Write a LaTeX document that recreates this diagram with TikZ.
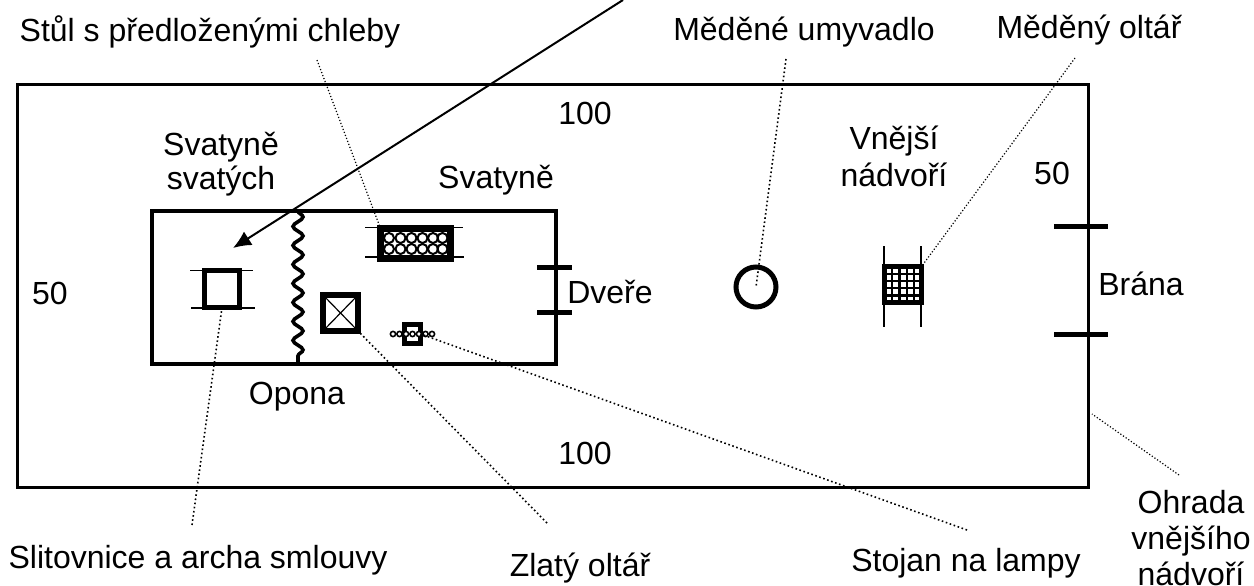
\documentclass[tikz,border=0pt]{standalone}
\usepackage{fontspec}
\setmainfont{Liberation Sans}
\usetikzlibrary{decorations.pathmorphing,arrows.meta}
\tikzset{
	popis/.style={align=center,inner sep=0pt,font=\fontsize{32}{34.5}\selectfont},
	predmet/.style={draw,line width=5pt,inner sep=0pt,outer sep=0pt,anchor=north west},
	vodici/.style={line width=1.6pt,dash pattern=on 1.6pt off 2.6pt},
	vodicitenka/.style={line width=1.2pt,dash pattern=on 1.2pt off 2pt},
	tenka/.style={line width=1.6pt}
}
\begin{document}
\begin{tikzpicture}[x=1pt,y=-1pt]
			\useasboundingbox (0,0) rectangle (1254,586);
			
			\node[draw,line width=3pt,inner sep=0pt,outer sep=0pt,minimum width=1071pt,minimum height=402pt,anchor=north west] (ohrada) at (17,85) {};
			\node[draw,line width=4pt,inner sep=0pt,outer sep=0pt,minimum width=404pt,minimum height=153pt,anchor=north west] (stan) at (152,211) {};
			
			% opona
			\draw[line width=3.6pt,decorate,decoration={snake,amplitude=5pt,segment length=19pt}] (298,211) -- (298,364);
			
			% slitovnice
			\draw[tenka] (190,270.5) -- (253,270.5);
			\draw[tenka] (191,308) -- (255,308);
			\node[predmet,minimum width=35pt,minimum height=37pt] (archa) at (204.5,270.5) {};
			
			% stul
			\draw[tenka] (365,227.5) -- (463,227.5);
			\draw[tenka] (365,257) -- (464,257);
			\node[predmet,fill=white,line width=7pt,minimum width=70pt,minimum height=30pt] (stul) at (380.5,228.5) {};
			\foreach \x in {389,400.5,411.5,422.5,433,442.5}{
				\draw[line width=2pt] (\x,238) circle (5pt);
				\draw[line width=2pt] (\x,249) circle (5pt);
			}
			
			% zlaty oltar
			\node[predmet,line width=6pt,minimum width=35pt,minimum height=36pt] (zlaty) at (323,295) {};
			\draw[line width=1.2pt] (zlaty.north west) -- (zlaty.south east);
			\draw[line width=1.2pt] (zlaty.north east) -- (zlaty.south west);
			
			% stojan
			\node[predmet,minimum width=16pt,minimum height=19pt] (stojan) at (404.5,324.5) {};
			\foreach \x in {393,399.5,406,412.5,419,425.5,432}{
				\draw[line width=1.6pt,fill=white] (\x,334) circle (2.6pt);
			}
			
			% dvere a brana
			\draw[line width=5pt] (537,267) -- (572,267);
			\draw[line width=5pt] (537,312) -- (572,312);
			\draw[line width=5pt] (1054,226) -- (1108,226);
			\draw[line width=5pt] (1054,334) -- (1108,334);
			
			% umyvadlo
			\node[draw,circle,line width=5pt,inner sep=0pt,outer sep=0pt,minimum size=40pt] (umyvadlo) at (756,287) {};
			
			% medeny oltar
			\draw[line width=2pt] (884,246) -- (884,327);
			\draw[line width=2pt] (921,246) -- (921,327);
			\node[predmet,fill=white,minimum width=37pt,minimum height=36pt] (medeny) at (884.5,266.5) {};
			\foreach \i in {1,...,4}{
				\draw[line width=2.4pt] (884.5+7.4*\i,266.5) -- (884.5+7.4*\i,302.5);
				\draw[line width=2.4pt] (884.5,266.5+7.2*\i) -- (921.5,266.5+7.2*\i);
			}
			
			% popisy
			\node[popis] (lstul) at (210,32) {Stůl s předloženými chleby};
			\node[popis] (lumyvadlo) at (804,32) {Měděné umyvadlo};
			\node[popis] (lmeneny) at (1089,30) {Měděný oltář};
			\node[popis] (lsto) at (585,113) {100};
			\node[popis] (lsvatych) at (221,164) {Svatyně\\svatých};
			\node[popis] (lsvatyne) at (496,180) {Svatyně};
			\node[popis] (lnadvori) at (894,156.5) {Vnější\\[2.5pt]nádvoří};
			\node[popis] (lpadesat) at (1052,173) {50};
			\node[popis] (lpadesatb) at (50,293) {50};
			\node[popis] (ldvere) at (610,292) {Dveře};
			\node[popis] (lbrana) at (1141,284) {Brána};
			\node[popis] (lopona) at (297,397) {Opona};
			\node[popis] (lstob) at (585,453) {100};
			\node[popis] (larcha) at (198,560.5) {Slitovnice a archa smlouvy};
			\node[popis] (lzlaty) at (580,568) {Zlatý oltář};
			\node[popis] (lstojan) at (966,563.5) {Stojan na lampy};
			\node[popis] (lohrada) at (1191,538) {Ohrada\\[1.5pt]vnějšího\\[1.5pt]nádvoří};
			
			% konce vodicich car
			\coordinate (kstul) at (317,60);
			\coordinate (kumyvadlo) at (786,59);
			\coordinate (kmedeny) at (1075,58);
			\coordinate (karcha) at (192,525);
			\coordinate (kzlaty) at (547,523);
			\coordinate (kstojan) at (967,530);
			\coordinate (kohrada) at (1179,475);
			\coordinate (kohradab) at (1092,414);
			\coordinate (ksipka) at (623,0);
			\coordinate (ksipkab) at (233,248);
			
			\draw[vodicitenka] (kstul) -- (stul.north west);
			\draw[vodici] (kumyvadlo) -- (umyvadlo.center);
			\draw[vodicitenka] (kmedeny) -- (medeny.north east);
			\draw[vodici] (karcha) -- (archa.south);
			\draw[vodici] (kzlaty) -- (zlaty.south east);
			\draw[vodici] (kstojan) -- (stojan.east);
			\draw[vodicitenka] (kohrada) -- (kohradab);
			\draw[line width=2pt,-{Latex[length=18pt,width=16pt]}] (ksipka) -- (ksipkab);
\end{tikzpicture}
\end{document}
